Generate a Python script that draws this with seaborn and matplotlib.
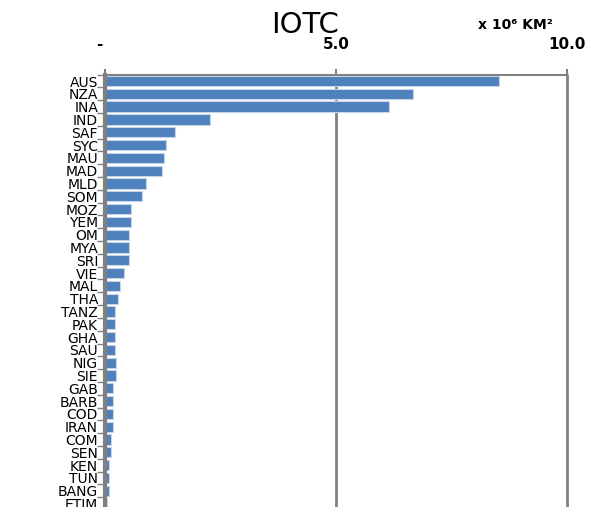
import matplotlib
matplotlib.use("Agg")
import matplotlib.pyplot as plt
import seaborn as sns
import numpy as np
from matplotlib.ticker import FixedLocator, FixedFormatter

# area of EEZ in the IOTC region, million km2
countries = ["AUS", "NZA", "INA", "IND", "SAF", "SYC", "MAU", "MAD", "MLD", "SOM",
             "MOZ", "YEM", "OM", "MYA", "SRI", "VIE", "MAL", "THA", "TANZ", "PAK",
             "GHA", "SAU", "NIG", "SIE", "GAB", "BARB", "COD", "IRAN", "COM", "SEN",
             "KEN", "TUN", "BANG", "ETIM"]
areas = [8.53, 6.67, 6.15, 2.27, 1.52, 1.32, 1.27, 1.23, 0.89, 0.81,
         0.57, 0.57, 0.52, 0.52, 0.52, 0.41, 0.33, 0.28, 0.22, 0.22,
         0.22, 0.22, 0.23, 0.24, 0.17, 0.17, 0.17, 0.17, 0.12, 0.12,
         0.08, 0.08, 0.08, 0.05]
xticks = [0, 5, 10]
xticklabels = ["-  ", "5.0", "10.0"]

sns.set_style("white")
plt.rcParams["text.color"] = "black"
plt.rcParams["xtick.labelcolor"] = "black"
plt.rcParams["ytick.labelcolor"] = "black"

fig = plt.figure(figsize=(5.9, 5.07), dpi=100)
ax = fig.add_axes([105 / 590, -3 / 507, 462 / 590, (507 - 74.6 + 3) / 507])

sns.barplot(x=areas, y=countries, orient="h", color="#4F81BD", saturation=1,
            width=0.8, edgecolor="#C5D5EA", linewidth=0.8, ax=ax)

ax.set_xlim(0, 10)
ax.set_ylim(len(countries) - 0.5, -0.5)
ax.set_xlabel("")
ax.set_ylabel("")

# x axis on top
ax.xaxis.tick_top()
ax.xaxis.set_major_locator(FixedLocator(xticks))
ax.xaxis.set_major_formatter(FixedFormatter(xticklabels))
ax.tick_params(axis="x", which="major", top=True, bottom=False, length=4, width=1.5,
               color="#808080", pad=12, labelsize=11, labelcolor="black")
for lab in ax.get_xticklabels():
    lab.set_fontweight("bold")
for x in xticks[1:]:
    ax.axvline(x, color="#808080", lw=2, zorder=0, clip_on=False)

# y ticks between categories
ax.yaxis.set_minor_locator(FixedLocator(np.arange(-0.5, len(countries), 1)))
ax.tick_params(axis="y", which="major", length=0, pad=5, labelsize=10, labelcolor="black")
ax.tick_params(axis="y", which="minor", left=True, length=6, width=1, color="#808080")

for side in ["right", "bottom"]:
    ax.spines[side].set_visible(False)
ax.spines["top"].set_color("#808080")
ax.spines["top"].set_linewidth(1.5)
ax.spines["left"].set_color("#808080")
ax.spines["left"].set_linewidth(3)

fig.text(305 / 590, 1 - 25 / 507, "IOTC", ha="center", va="center", fontsize=21,
         color="black")
fig.text(515 / 590, 1 - 25 / 507, "x 10\u2076 KM\u00b2", ha="center", va="center",
         fontsize=10, fontweight="bold", color="black")

fig.savefig("out.png", dpi=100)
